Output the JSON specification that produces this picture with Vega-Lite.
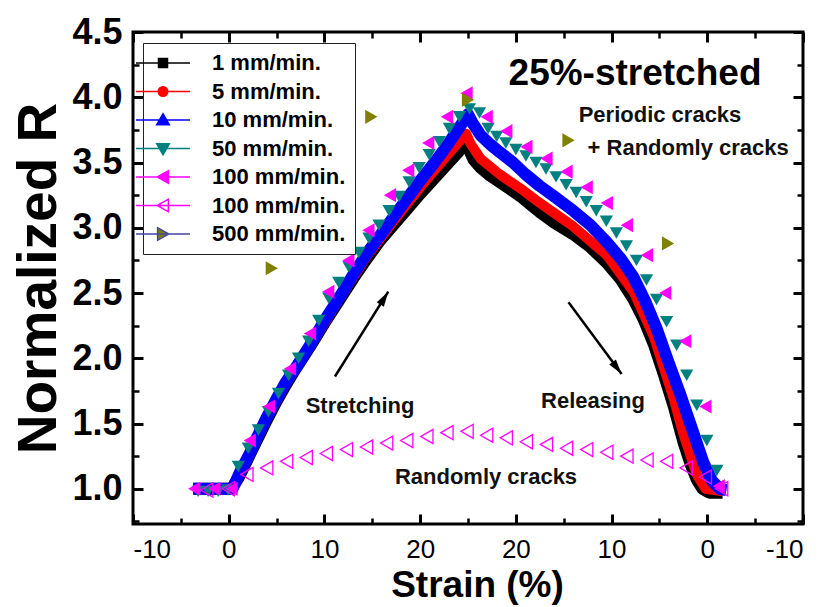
{
  "$schema": "https://vega.github.io/schema/vega-lite/v6.json",
  "width": 670,
  "height": 492,
  "autosize": {"type": "none"},
  "padding": {"left": 133, "top": 32, "right": 18, "bottom": 83},
  "background": "white",
  "config": {
    "view": {"stroke": "black", "strokeWidth": 3},
    "font": "Liberation Sans",
    "axis": {"grid": false, "domain": false, "tickColor": "black", "labelColor": "black", "titleColor": "black", "labelFlush": false, "labelOverlap": false}
  },
  "datasets": {
    "s1": [
      {"u": -3.7, "R": 1.0}, {"u": -2, "R": 1.0}, {"u": 0.3, "R": 1.0}, {"u": 1.0, "R": 1.08}, {"u": 2.0, "R": 1.23}, {"u": 3.0, "R": 1.38}, {"u": 4.0, "R": 1.53}, {"u": 5.0, "R": 1.67}, {"u": 6.0, "R": 1.8}, {"u": 7.0, "R": 1.92}, {"u": 8.5, "R": 2.09}, {"u": 10.0, "R": 2.27}, {"u": 11.6, "R": 2.45}, {"u": 13.0, "R": 2.61}, {"u": 14.4, "R": 2.76}, {"u": 15.8, "R": 2.9}, {"u": 17.2, "R": 3.02}, {"u": 18.6, "R": 3.14}, {"u": 20.0, "R": 3.26}, {"u": 21.5, "R": 3.38}, {"u": 23.0, "R": 3.5}, {"u": 24.0, "R": 3.58}, {"u": 24.6, "R": 3.66}, {"u": 25.1, "R": 3.6}, {"u": 25.6, "R": 3.52}, {"u": 26.3, "R": 3.46}, {"u": 27.3, "R": 3.4}, {"u": 28.3, "R": 3.35}, {"u": 29.5, "R": 3.29}, {"u": 30.5, "R": 3.24}, {"u": 31.5, "R": 3.18}, {"u": 32.5, "R": 3.12}, {"u": 34.0, "R": 3.04}, {"u": 36.0, "R": 2.95}, {"u": 37.8, "R": 2.85}, {"u": 39.5, "R": 2.73}, {"u": 41.0, "R": 2.6}, {"u": 42.3, "R": 2.45}, {"u": 43.4, "R": 2.29}, {"u": 44.4, "R": 2.11}, {"u": 45.4, "R": 1.89}, {"u": 46.5, "R": 1.63}, {"u": 47.5, "R": 1.36}, {"u": 48.3, "R": 1.18}, {"u": 48.9, "R": 1.07}, {"u": 49.5, "R": 1.0}, {"u": 50.2, "R": 0.97}, {"u": 51.6, "R": 0.97}
    ],
    "s5": [
      {"u": -3.7, "R": 1.0}, {"u": 0.4, "R": 1.0}, {"u": 1.2, "R": 1.12}, {"u": 2.2, "R": 1.26}, {"u": 4.0, "R": 1.54}, {"u": 6.0, "R": 1.81}, {"u": 8.5, "R": 2.09}, {"u": 11.6, "R": 2.46}, {"u": 14.4, "R": 2.78}, {"u": 17.2, "R": 3.05}, {"u": 20.0, "R": 3.31}, {"u": 23.0, "R": 3.57}, {"u": 24.8, "R": 3.72}, {"u": 25.3, "R": 3.64}, {"u": 26.3, "R": 3.53}, {"u": 28.3, "R": 3.41}, {"u": 30.5, "R": 3.3}, {"u": 32.5, "R": 3.19}, {"u": 36.0, "R": 3.01}, {"u": 39.5, "R": 2.79}, {"u": 42.3, "R": 2.51}, {"u": 44.4, "R": 2.17}, {"u": 46.5, "R": 1.69}, {"u": 47.5, "R": 1.42}, {"u": 48.9, "R": 1.11}, {"u": 49.8, "R": 1.0}, {"u": 51.6, "R": 0.98}
    ],
    "s10": [
      {"u": -3.7, "R": 1.0}, {"u": -2, "R": 1.0}, {"u": 0.4, "R": 1.0}, {"u": 1.2, "R": 1.13}, {"u": 2.2, "R": 1.27}, {"u": 3.0, "R": 1.4}, {"u": 4.0, "R": 1.55}, {"u": 5.0, "R": 1.69}, {"u": 6.0, "R": 1.82}, {"u": 7.2, "R": 1.95}, {"u": 8.5, "R": 2.1}, {"u": 10.0, "R": 2.29}, {"u": 11.6, "R": 2.47}, {"u": 13.0, "R": 2.64}, {"u": 14.4, "R": 2.8}, {"u": 15.8, "R": 2.94}, {"u": 17.2, "R": 3.08}, {"u": 18.6, "R": 3.22}, {"u": 20.0, "R": 3.36}, {"u": 21.5, "R": 3.5}, {"u": 23.0, "R": 3.65}, {"u": 24.2, "R": 3.78}, {"u": 25.0, "R": 3.87}, {"u": 25.5, "R": 3.8}, {"u": 26.3, "R": 3.71}, {"u": 27.3, "R": 3.64}, {"u": 28.3, "R": 3.58}, {"u": 29.7, "R": 3.5}, {"u": 31.0, "R": 3.41}, {"u": 32.5, "R": 3.32}, {"u": 34.0, "R": 3.24}, {"u": 36.0, "R": 3.13}, {"u": 37.8, "R": 3.02}, {"u": 39.5, "R": 2.89}, {"u": 41.0, "R": 2.76}, {"u": 42.3, "R": 2.62}, {"u": 43.5, "R": 2.44}, {"u": 44.7, "R": 2.23}, {"u": 45.9, "R": 1.98}, {"u": 47.1, "R": 1.74}, {"u": 48.4, "R": 1.46}, {"u": 49.6, "R": 1.2}, {"u": 50.5, "R": 1.06}, {"u": 51.3, "R": 1.0}, {"u": 52.0, "R": 0.99}
    ],
    "s50": [
      {"u": -3.2, "R": 0.98}, {"u": -2.15, "R": 0.98}, {"u": -1.1, "R": 0.98}, {"u": -0.05, "R": 0.99}, {"u": 1.0, "R": 1.17}, {"u": 2.05, "R": 1.31}, {"u": 3.1, "R": 1.45}, {"u": 4.15, "R": 1.59}, {"u": 5.2, "R": 1.73}, {"u": 6.25, "R": 1.87}, {"u": 7.3, "R": 2.0}, {"u": 8.35, "R": 2.13}, {"u": 9.4, "R": 2.29}, {"u": 10.45, "R": 2.46}, {"u": 11.5, "R": 2.58}, {"u": 12.55, "R": 2.7}, {"u": 13.6, "R": 2.81}, {"u": 14.65, "R": 2.92}, {"u": 15.7, "R": 3.02}, {"u": 16.75, "R": 3.13}, {"u": 17.8, "R": 3.24}, {"u": 18.85, "R": 3.35}, {"u": 19.9, "R": 3.46}, {"u": 20.95, "R": 3.56}, {"u": 22.0, "R": 3.66}, {"u": 23.05, "R": 3.76}, {"u": 24.1, "R": 3.85}, {"u": 25.15, "R": 3.91},
      {"u": 26.2, "R": 3.88}, {"u": 27.1, "R": 3.76}, {"u": 28.0, "R": 3.7}, {"u": 28.95, "R": 3.65}, {"u": 30.0, "R": 3.6}, {"u": 31.05, "R": 3.55}, {"u": 32.1, "R": 3.5}, {"u": 33.15, "R": 3.45}, {"u": 34.2, "R": 3.39}, {"u": 35.25, "R": 3.33}, {"u": 36.3, "R": 3.27}, {"u": 37.35, "R": 3.2}, {"u": 38.4, "R": 3.13}, {"u": 39.45, "R": 3.05}, {"u": 40.5, "R": 2.96}, {"u": 41.55, "R": 2.86}, {"u": 42.6, "R": 2.75}, {"u": 43.65, "R": 2.6}, {"u": 44.7, "R": 2.45}, {"u": 45.75, "R": 2.28}, {"u": 46.8, "R": 2.1}, {"u": 47.85, "R": 1.87}, {"u": 48.9, "R": 1.64}, {"u": 49.95, "R": 1.37}, {"u": 51.0, "R": 1.14}
    ],
    "s100": [
      {"u": -3.6, "R": 1.0}, {"u": -1.5, "R": 1.0}, {"u": 0.3, "R": 1.0}, {"u": 2.2, "R": 1.37}, {"u": 4.2, "R": 1.63}, {"u": 6.4, "R": 1.92}, {"u": 8.5, "R": 2.19}, {"u": 10.4, "R": 2.51}, {"u": 12.5, "R": 2.75}, {"u": 14.6, "R": 2.98}, {"u": 16.85, "R": 3.25}, {"u": 18.75, "R": 3.44}, {"u": 20.85, "R": 3.65}, {"u": 22.8, "R": 3.85}, {"u": 24.85, "R": 4.03}, {"u": 26.95, "R": 3.85}, {"u": 29.0, "R": 3.74}, {"u": 31.1, "R": 3.62}, {"u": 33.2, "R": 3.53}, {"u": 35.3, "R": 3.43}, {"u": 37.4, "R": 3.31}, {"u": 39.5, "R": 3.19}, {"u": 41.6, "R": 3.02}, {"u": 43.7, "R": 2.79}, {"u": 45.6, "R": 2.5}, {"u": 47.7, "R": 2.13}, {"u": 49.8, "R": 1.63}, {"u": 51.2, "R": 1.02}
    ],
    "s100o": [
      {"u": -2.3, "R": 0.99}, {"u": -0.04, "R": 1.0}, {"u": 1.9, "R": 1.11}, {"u": 3.97, "R": 1.16}, {"u": 6.05, "R": 1.21}, {"u": 8.1, "R": 1.24}, {"u": 10.2, "R": 1.27}, {"u": 12.3, "R": 1.3}, {"u": 14.4, "R": 1.32}, {"u": 16.5, "R": 1.35}, {"u": 18.6, "R": 1.37}, {"u": 20.7, "R": 1.4}, {"u": 22.8, "R": 1.43}, {"u": 24.9, "R": 1.44}, {"u": 26.95, "R": 1.41}, {"u": 29.0, "R": 1.39}, {"u": 31.1, "R": 1.36}, {"u": 33.2, "R": 1.34}, {"u": 35.3, "R": 1.31}, {"u": 37.4, "R": 1.3}, {"u": 39.5, "R": 1.28}, {"u": 41.6, "R": 1.25}, {"u": 43.7, "R": 1.22}, {"u": 45.75, "R": 1.21}, {"u": 47.8, "R": 1.16}, {"u": 49.8, "R": 1.09}, {"u": 51.5, "R": 1.0}
    ],
    "s500": [
      {"u": 4.5, "R": 2.69}, {"u": 14.9, "R": 3.85}, {"u": 25.0, "R": 3.98}, {"u": 35.5, "R": 3.67}, {"u": 45.9, "R": 2.88}
    ],
    "legend": [
      {"s": "1 mm/min."}, {"s": "5 mm/min."}, {"s": "10 mm/min."}, {"s": "50 mm/min."}, {"s": "100 mm/min."}, {"s": "100 mm/min. "}, {"s": "500 mm/min."}
    ],
    "arrows": [
      {"dir": "up", "u": 11.1, "R": 1.86, "u2": 16.67, "R2": 2.51},
      {"dir": "down", "u": 35.5, "R": 2.43, "u2": 41.05, "R2": 1.88}
    ],
    "bigtext": [
      {"u": 42.45, "R": 4.094, "label": "25%-stretched"}
    ],
    "notes": [
      {"u": 45.06, "R": 3.81, "label": "Periodic cracks"},
      {"u": 48.0, "R": 3.557, "label": "+ Randomly cracks"},
      {"u": 13.72, "R": 1.58, "label": "Stretching"},
      {"u": 38.06, "R": 1.62, "label": "Releasing"},
      {"u": 26.88, "R": 1.036, "label": "Randomly cracks"}
    ]
  },
  "layer": [
    {
      "data": {"name": "s1"},
      "mark": {"type": "line", "color": "black", "strokeWidth": 12, "strokeJoin": "round", "strokeCap": "butt"},
      "encoding": {
        "x": {"field": "u", "type": "quantitative", "scale": {"domain": [-10, 60], "nice": false, "zero": false},
          "axis": {"orient": "bottom", "values": [-10, 0, 10, 20, 30, 40, 50, 60],
            "labelExpr": "datum.value == -10 || datum.value == 60 ? '-10' : (datum.value <= 25 ? '' + datum.value : '' + (50 - datum.value))",
            "tickSize": -10, "tickWidth": 3, "labelFont": "Liberation Sans", "labelFontSize": 26, "labelPadding": 22, "labelFlush": true,
            "title": "Strain (%)", "titleFont": "Liberation Sans", "titleFontSize": 37, "titleFontWeight": "bold", "titleBaseline": "alphabetic", "titleY": 72, "titleX": 344}},
        "y": {"field": "R", "type": "quantitative", "scale": {"domain": [0.73, 4.5], "nice": false, "zero": false},
          "axis": {"orient": "left", "values": [1, 1.5, 2, 2.5, 3, 3.5, 4, 4.5], "format": ".1f",
            "tickSize": -10, "tickWidth": 3, "labelFont": "Liberation Sans", "labelFontSize": 36, "labelFontWeight": "bold", "labelPadding": 21,
            "title": "Normalized R", "titleFont": "Liberation Sans", "titleFontSize": 55, "titleFontWeight": "bold", "titlePadding": 4}}
      }
    },
    {
      "data": {"name": "s5"},
      "mark": {"type": "line", "color": "red", "strokeWidth": 10, "strokeJoin": "round"},
      "encoding": {
        "x": {"field": "u", "type": "quantitative", "axis": {"orient": "bottom", "values": [-5, 5, 15, 25, 35, 45, 55], "tickSize": -6, "tickWidth": 2.5, "labels": false, "title": null}},
        "y": {"field": "R", "type": "quantitative", "axis": {"orient": "left", "values": [0.75, 1.25, 1.75, 2.25, 2.75, 3.25, 3.75, 4.25], "tickSize": -6, "tickWidth": 2.5, "labels": false, "title": null}}
      }
    },
    {
      "data": {"name": "s10"},
      "mark": {"type": "line", "color": "blue", "strokeWidth": 12, "strokeJoin": "round"},
      "encoding": {
        "x": {"field": "u", "type": "quantitative", "axis": {"orient": "top", "values": [-10, 0, 10, 20, 30, 40, 50, 60], "tickSize": -10, "tickWidth": 3, "labels": false, "title": null}},
        "y": {"field": "R", "type": "quantitative", "axis": {"orient": "right", "values": [1, 1.5, 2, 2.5, 3, 3.5, 4, 4.5], "tickSize": -10, "tickWidth": 3, "labels": false, "title": null}}
      }
    },
    {
      "data": {"name": "s50"},
      "mark": {"type": "point", "shape": "triangle-down", "filled": true, "color": "#008080", "size": 175, "opacity": 1},
      "encoding": {
        "x": {"field": "u", "type": "quantitative", "axis": {"orient": "top", "values": [-5, 5, 15, 25, 35, 45, 55], "tickSize": -6, "tickWidth": 2.5, "labels": false, "title": null}},
        "y": {"field": "R", "type": "quantitative", "axis": {"orient": "right", "values": [0.75, 1.25, 1.75, 2.25, 2.75, 3.25, 3.75, 4.25], "tickSize": -6, "tickWidth": 2.5, "labels": false, "title": null}}
      }
    },
    {
      "data": {"name": "s100"},
      "mark": {"type": "point", "shape": "triangle-left", "filled": true, "color": "magenta", "size": 200, "opacity": 1},
      "encoding": {
        "x": {"field": "u", "type": "quantitative", "axis": null},
        "y": {"field": "R", "type": "quantitative", "axis": null}
      }
    },
    {
      "data": {"name": "s100o"},
      "mark": {"type": "point", "shape": "triangle-left", "filled": false, "color": "magenta", "size": 200, "strokeWidth": 1.3, "opacity": 1},
      "encoding": {
        "x": {"field": "u", "type": "quantitative", "axis": null},
        "y": {"field": "R", "type": "quantitative", "axis": null}
      }
    },
    {
      "data": {"name": "s500"},
      "mark": {"type": "point", "shape": "triangle-right", "filled": true, "color": "#808000", "size": 200, "opacity": 1},
      "encoding": {
        "x": {"field": "u", "type": "quantitative", "axis": null},
        "y": {"field": "R", "type": "quantitative", "axis": null}
      }
    },
    {
      "data": {"name": "arrows"},
      "mark": {"type": "rule", "color": "black", "strokeWidth": 2.5},
      "encoding": {
        "x": {"field": "u", "type": "quantitative", "axis": null},
        "y": {"field": "R", "type": "quantitative", "axis": null},
        "x2": {"field": "u2"},
        "y2": {"field": "R2"}
      }
    },
    {
      "data": {"name": "arrows"},
      "transform": [{"filter": "datum.dir == 'up'"}],
      "mark": {"type": "point", "shape": "M0,0L0.5,1.8L-0.5,1.8Z", "filled": true, "color": "black", "size": 280, "opacity": 1, "angle": 32},
      "encoding": {
        "x": {"field": "u2", "type": "quantitative", "axis": null},
        "y": {"field": "R2", "type": "quantitative", "axis": null}
      }
    },
    {
      "data": {"name": "arrows"},
      "transform": [{"filter": "datum.dir == 'down'"}],
      "mark": {"type": "point", "shape": "M0,0L0.5,1.8L-0.5,1.8Z", "filled": true, "color": "black", "size": 280, "opacity": 1, "angle": 143},
      "encoding": {
        "x": {"field": "u2", "type": "quantitative", "axis": null},
        "y": {"field": "R2", "type": "quantitative", "axis": null}
      }
    },
    {
      "data": {"name": "bigtext"},
      "mark": {"type": "text", "font": "Liberation Sans", "fontSize": 37, "fontWeight": "bold", "color": "black", "align": "center", "baseline": "alphabetic"},
      "encoding": {
        "x": {"field": "u", "type": "quantitative", "axis": null},
        "y": {"field": "R", "type": "quantitative", "axis": null},
        "text": {"field": "label"}
      }
    },
    {
      "data": {"name": "notes"},
      "mark": {"type": "text", "font": "Liberation Sans", "fontSize": 22, "fontWeight": "bold", "color": "#111", "align": "center", "baseline": "alphabetic"},
      "encoding": {
        "x": {"field": "u", "type": "quantitative", "axis": null},
        "y": {"field": "R", "type": "quantitative", "axis": null},
        "text": {"field": "label"}
      }
    },
    {
      "data": {"name": "legend"},
      "mark": {"type": "point", "filled": true, "opacity": 0, "strokeWidth": 1.5},
      "encoding": {
        "fill": {"field": "s", "type": "nominal",
          "scale": {"domain": ["1 mm/min.", "5 mm/min.", "10 mm/min.", "50 mm/min.", "100 mm/min.", "100 mm/min. ", "500 mm/min."],
            "range": ["black", "red", "blue", "#008080", "magenta", "white", "#808000"]},
          "legend": {"orient": "none", "legendX": 10, "legendY": 11, "title": null, "symbolSize": 144, "symbolStrokeWidth": 1.5, "symbolOpacity": 1,
            "labelFont": "Liberation Sans", "labelFontSize": 22, "labelFontWeight": "bold", "labelColor": "black", "labelOffset": 38,
            "padding": 9, "rowPadding": 6.5, "strokeColor": "#222", "fillColor": "white"}},
        "stroke": {"field": "s", "type": "nominal",
          "scale": {"domain": ["1 mm/min.", "5 mm/min.", "10 mm/min.", "50 mm/min.", "100 mm/min.", "100 mm/min. ", "500 mm/min."],
            "range": ["black", "red", "blue", "#008080", "magenta", "magenta", "#4646a0"]},
          "legend": {"orient": "none", "legendX": 10, "legendY": 11, "title": null, "symbolSize": 144, "symbolStrokeWidth": 1.5, "symbolOpacity": 1,
            "labelFont": "Liberation Sans", "labelFontSize": 22, "labelFontWeight": "bold", "labelColor": "black", "labelOffset": 38,
            "padding": 9, "rowPadding": 6.5, "strokeColor": "#222", "fillColor": "white"}},
        "shape": {"field": "s", "type": "nominal",
          "scale": {"domain": ["1 mm/min.", "5 mm/min.", "10 mm/min.", "50 mm/min.", "100 mm/min.", "100 mm/min. ", "500 mm/min."],
            "range": [
              "M-4.5,0H4.5M-0.75,-0.75H0.75V0.75H-0.75Z",
              "M-4.5,0H4.5M0.8,0A0.8,0.8,0,1,1,-0.8,0A0.8,0.8,0,1,1,0.8,0Z",
              "M-4.5,0H4.5M0,-1.05L1.05,0.8H-1.05Z",
              "M-4.5,0H4.5M0,1.05L1.05,-0.8H-1.05Z",
              "M-4.5,0H4.5M-0.95,0L0.9,-1.05V1.05Z",
              "M-4.5,0H4.5M-0.95,0L0.9,-1.05V1.05Z",
              "M-4.5,0H4.5M0.95,0L-0.9,-1.05V1.05Z"
            ]},
          "legend": {"orient": "none", "legendX": 10, "legendY": 11, "title": null, "symbolSize": 144, "symbolStrokeWidth": 1.5, "symbolOpacity": 1,
            "labelFont": "Liberation Sans", "labelFontSize": 22, "labelFontWeight": "bold", "labelColor": "black", "labelOffset": 38,
            "padding": 9, "rowPadding": 6.5, "strokeColor": "#222", "fillColor": "white"}}
      }
    }
  ],
  "resolve": {"axis": {"x": "independent", "y": "independent"}}
}
